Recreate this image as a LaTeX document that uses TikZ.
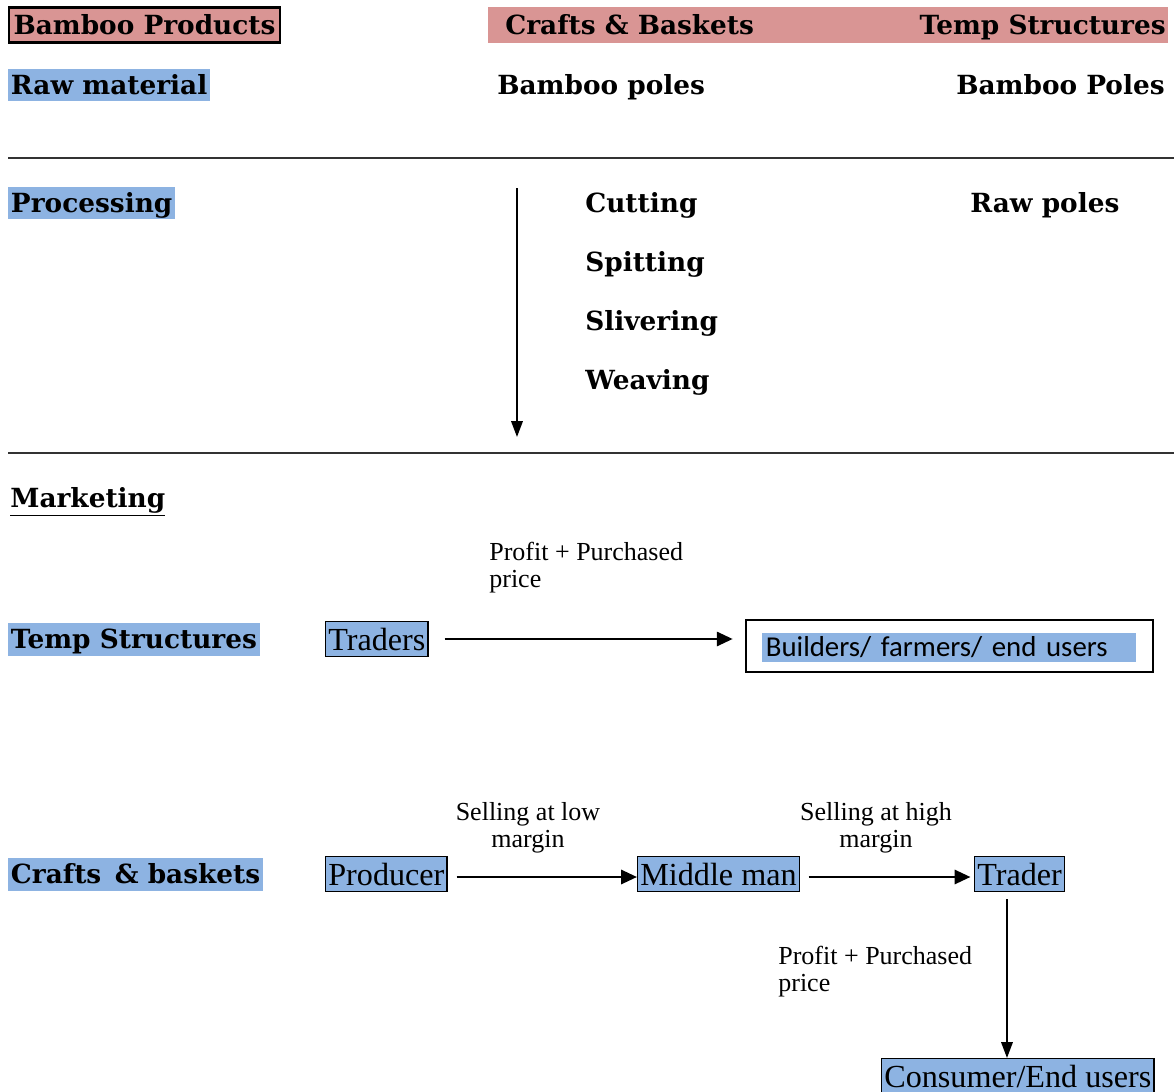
\documentclass[tikz,border=0pt]{standalone}
\usepackage{fontspec}
\setmainfont{DejaVu Serif}
\newfontfamily\narrowfont{Liberation Serif}
\newfontfamily\calfont{Carlito}
\usetikzlibrary{arrows.meta,positioning}
\definecolor{bpInk}{HTML}{000000}
\definecolor{bpPink}{HTML}{D99594}
\definecolor{bpBlue}{HTML}{8DB3E2}
\tikzset{
  every node/.style={text=bpInk},
  heading/.style={font=\fontsize{15}{18}\selectfont\bfseries, anchor=west,
    inner sep=0pt, text height=13.2pt, text depth=2.6pt},
  hilite/.style={heading, fill=bpBlue, inner xsep=1.5pt, minimum height=0.66cm},
  flowbox/.style={draw=bpInk, fill=bpBlue, line width=0.8pt, anchor=west,
    font=\narrowfont\fontsize{18.3}{20}\selectfont, inner xsep=1.5pt,
    inner ysep=0pt, minimum height=0.70cm},
  note/.style={font=\narrowfont\fontsize{14.8}{15.5}\selectfont, align=left,
    anchor=north west, inner sep=0pt},
  flow/.style={-{Triangle[length=9pt,width=8pt]}, line width=1.5pt,
    color=bpInk},
  thinflow/.style={-{Triangle[length=9pt,width=6.5pt]}, line width=1.1pt,
    color=bpInk},
  rule/.style={line width=1.1pt, color=bpInk!80},
}

\begin{document}
\begin{tikzpicture}[x=0.02cm,y=-0.02cm]
  \useasboundingbox (0,0) rectangle (1174,1092);

  % Header row with the product groups.
  \node[heading, draw=bpInk, fill=bpPink, line width=1.3pt, inner xsep=2.5pt,
    inner ysep=1.5pt, minimum height=0.70cm] (products) at (8,25) {Bamboo Products};
  \node[fill=bpPink, minimum width=13.60cm, minimum height=0.72cm,
    inner sep=0pt] (band) at (828,25) {};
  \node[heading] (crafts) at (505,25) {Crafts \& Baskets};
  \node[heading, anchor=east] (temp) at (1166,25) {Temp Structures};

  % Raw material.
  \node[hilite] (raw) at (8,85) {Raw material};
  \node[heading] (poles) at (497,85) {Bamboo poles};
  \node[heading, anchor=east] (polesT) at (1165,85) {Bamboo Poles};

  \coordinate (ruleA) at (8,158);
  \coordinate (ruleB) at (1174,158);
  \draw[rule] (ruleA) -- (ruleB);

  % Processing steps.
  \node[hilite] (processing) at (8,203) {Processing\ };
  \coordinate (procTop) at (517,188);
  \coordinate (procEnd) at (517,437);
  \draw[thinflow] (procTop) -- (procEnd);
  \foreach \stepname/\y in {Cutting/203,Spitting/262,Slivering/321,Weaving/380}
    \node[heading] (\stepname) at (585,\y) {\stepname};
  \node[heading] (rawpoles) at (970,203) {Raw poles};

  \coordinate (ruleC) at (8,453);
  \coordinate (ruleD) at (1174,453);
  \draw[rule] (ruleC) -- (ruleD);

  % Marketing chains.
  \node[heading] (marketing) at (10,498) {\underline{Marketing}};

  \node[hilite] (tempM) at (8,639) {Temp Structures};
  \node[flowbox] (traders) at (325,639) {Traders};
  \node[draw=bpInk, line width=1pt, minimum width=8.14cm,
    minimum height=1.04cm, inner sep=0pt, anchor=west] (users) at (745,646) {};
  \node[fill=bpBlue, font=\calfont\fontsize{16.4}{18}\selectfont, anchor=west,
    inner xsep=2pt, inner ysep=1pt, text width=7.34cm, align=left,
    minimum height=0.58cm] (usersTxt) at (762,647) {Builders/ farmers/ end users};
  \node[note] (noteA) at (489,542) {Profit + Purchased\\price};
  \draw[flow, shorten <=9pt, shorten >=7pt] (traders.east) -- (traders.east -| users.west);

  \node[hilite] (craftsM) at (8,874) {Crafts \,\& baskets};
  \node[flowbox] (producer) at (325,874) {Producer};
  \node[flowbox] (middle) at (637,874) {Middle man};
  \node[flowbox] (trader) at (974,874) {Trader};
  \node[flowbox, anchor=north west] (consumer) at (881,1058) {Consumer/End users};
  \node[note, align=center, anchor=north] (noteB) at (528,802)
    {Selling at low\\margin};
  \node[note, align=center, anchor=north] (noteC) at (876,802)
    {Selling at high\\margin};
  \node[note] (noteD) at (778,946) {Profit + Purchased\\price};

  \draw[flow, shorten <=5pt] ([yshift=-0.06cm]producer.east) -- ([yshift=-0.06cm]middle.west);
  \draw[flow, shorten <=5pt, shorten >=2pt] ([yshift=-0.06cm]middle.east) -- ([yshift=-0.06cm]trader.west);
  \draw[thinflow, shorten <=4pt] ([xshift=0.66cm]trader.south west) -- ([xshift=0.66cm]trader.south west |- consumer.north);
\end{tikzpicture}
\end{document}
